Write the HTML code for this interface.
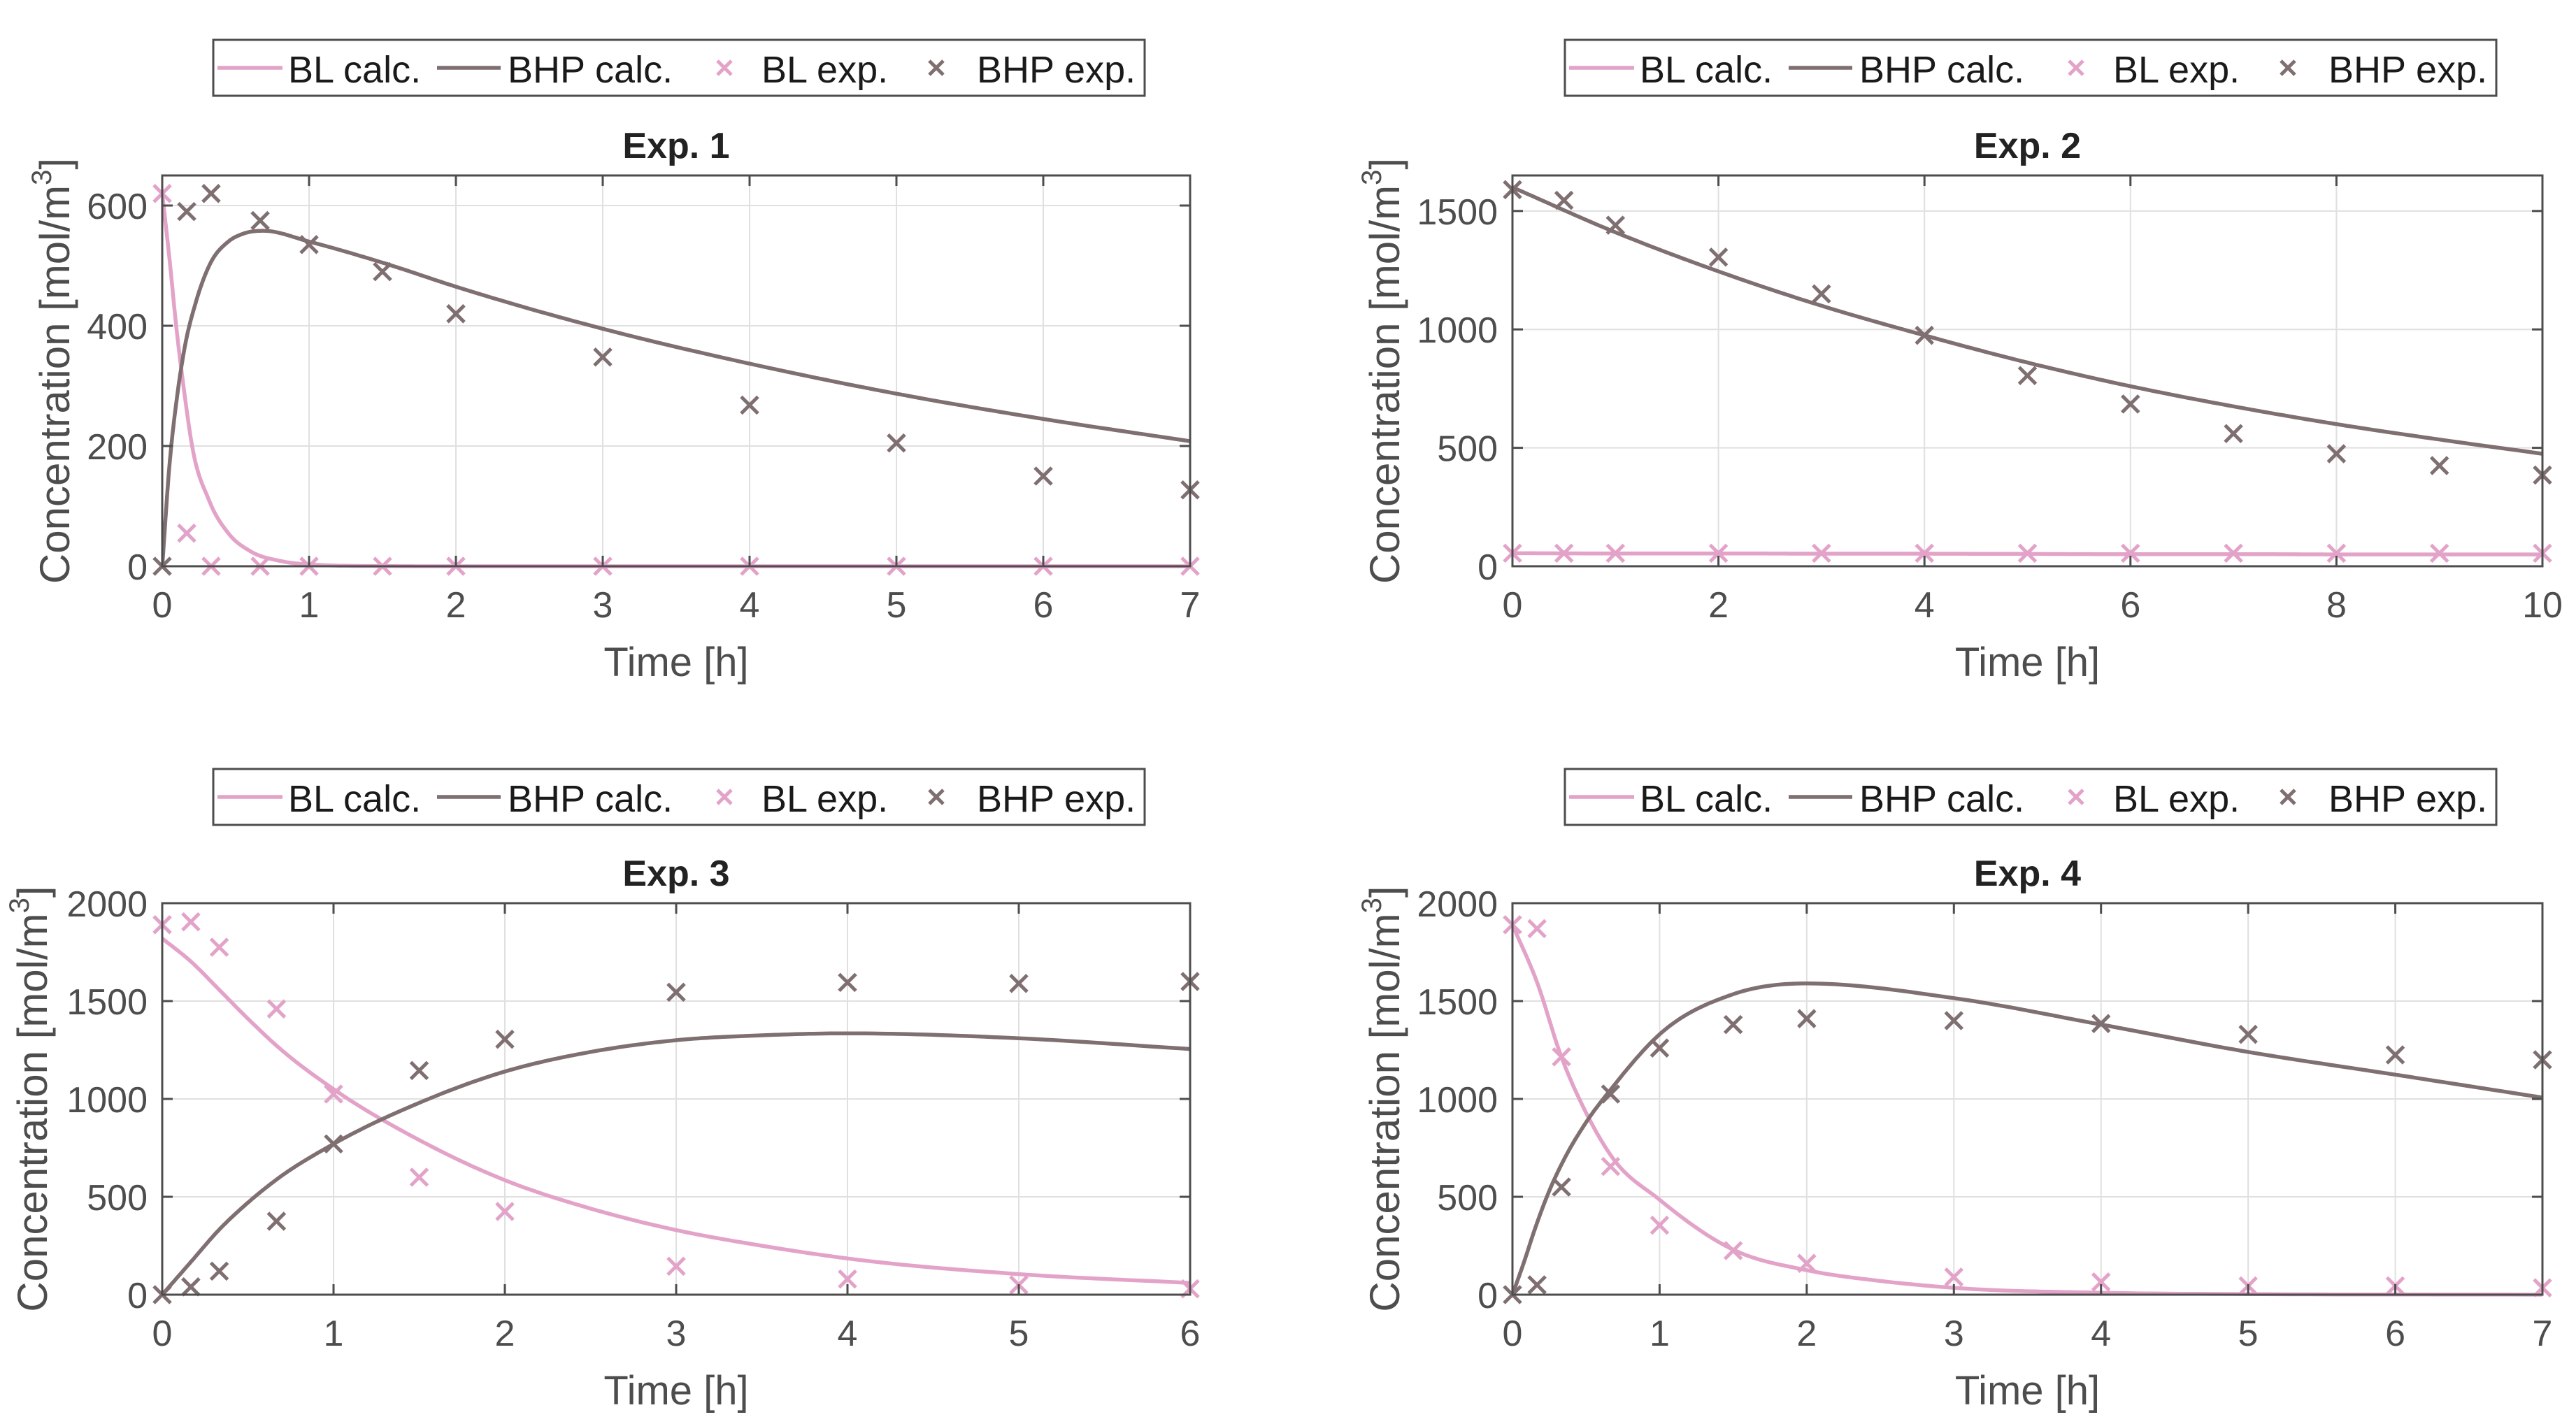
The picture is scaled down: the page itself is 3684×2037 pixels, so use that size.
<!DOCTYPE html>
<html><head><meta charset="utf-8"><style>
html,body{margin:0;padding:0;background:#fff;}
svg{display:block;}
</style></head><body>
<svg id="fig" width="3684" height="2037" viewBox="0 0 3684 2037" xmlns="http://www.w3.org/2000/svg" font-family="Liberation Sans, Arial, sans-serif"></svg>
<script>
// ---- Data ----
// Exp 1
const e1_tExp = [0, 0.167, 0.333, 0.667, 1, 1.5, 2, 3, 4, 5, 6, 7];
const e1_blExp = [620, 55, 0, 0, 0, 0, 0, 0, 0, 0, 0, 0];
const e1_bhpExp = [0, 590, 620, 575, 535, 490, 420, 348, 268, 205, 150, 127];
const e1_tBl = [0, 0.05, 0.095, 0.15, 0.2, 0.32, 0.45, 0.6, 0.8, 1, 1.5, 2, 7];
const e1_blCalc = [620, 510, 400, 290, 205, 109, 55, 25, 9, 3, 0.3, 0, 0];
const e1_tBhp = [0, 0.05, 0.1, 0.15, 0.23, 0.32, 0.45, 0.55, 0.69, 1, 1.5, 2, 3, 4, 5, 6, 7];
const e1_bhpCalc = [0, 170, 280, 360, 440, 500, 540, 553, 558, 540, 505, 465, 395, 337, 287, 245, 208];
// Exp 2
const e2_tExp = [0, 0.5, 1, 2, 3, 4, 5, 6, 7, 8, 9, 10];
const e2_blExp = [55, 55, 55, 55, 55, 55, 55, 55, 55, 55, 55, 55];
const e2_bhpExp = [1590, 1545, 1440, 1305, 1150, 975, 805, 685, 560, 475, 425, 385];
const e2_tCalc = [0, 1, 2, 3, 4, 5, 6, 7, 8, 9, 10];
const e2_blCalc = [55, 54, 54, 53, 53, 52, 51, 51, 50, 50, 50];
const e2_bhpCalc = [1600, 1410, 1245, 1100, 975, 860, 760, 675, 600, 535, 475];
// Exp 3
const e3_tExp = [0, 0.167, 0.333, 0.667, 1, 1.5, 2, 3, 4, 5, 6];
const e3_blExp = [1890, 1905, 1775, 1460, 1025, 600, 425, 145, 80, 50, 30];
const e3_bhpExp = [0, 40, 120, 375, 770, 1145, 1305, 1545, 1595, 1590, 1600];
const e3_tCalc = [0, 0.17, 0.33, 0.5, 0.67, 1, 1.5, 2, 2.5, 3, 3.5, 4, 5, 6];
const e3_blCalc = [1820, 1700, 1560, 1410, 1270, 1050, 790, 585, 440, 330, 250, 185, 105, 60];
const e3_bhpCalc = [0, 170, 330, 470, 590, 770, 980, 1140, 1240, 1300, 1325, 1335, 1310, 1255];
// Exp 4
const e4_tExp = [0, 0.167, 0.333, 0.667, 1, 1.5, 2, 3, 4, 5, 6, 7];
const e4_blExp = [1890, 1870, 1215, 655, 355, 225, 160, 90, 65, 45, 45, 35];
const e4_bhpExp = [0, 50, 550, 1025, 1260, 1380, 1410, 1400, 1385, 1330, 1225, 1200];
const e4_tBl = [0, 0.17, 0.33, 0.5, 0.67, 1, 1.5, 2, 2.5, 3, 4, 5, 7];
const e4_blCalc = [1890, 1590, 1220, 930, 710, 485, 230, 125, 70, 35, 10, 3, 0];
const e4_tBhp = [0, 0.08, 0.15, 0.25, 0.35, 0.5, 0.67, 1, 1.5, 2, 3, 4, 5, 6, 7];
const e4_bhpCalc = [0, 170, 330, 530, 690, 880, 1050, 1330, 1535, 1590, 1515, 1380, 1240, 1124, 1007];
// Ticks
const e1_xTicks = [0,1,2,3,4,5,6,7];
const e1_yTicks = [0,200,400,600];
const e2_xTicks = [0,2,4,6,8,10];
const e2_yTicks = [0,500,1000,1500];
const e3_xTicks = [0,1,2,3,4,5,6];
const e34_yTicks = [0,500,1000,1500,2000];
const e4_xTicks = [0,1,2,3,4,5,6,7];
const legendLabels = ["BL calc.", "BHP calc.", "BL exp.", "BHP exp."];
const titles = ["Exp. 1", "Exp. 2", "Exp. 3", "Exp. 4"];

const PINK = "#e3a3c9", BROWN = "#7f6f70", AX = "#4d4d4d";
const NS = "http://www.w3.org/2000/svg";
const svg = document.getElementById("fig");
function mk(tag, attrs, parent){
  const e = document.createElementNS(NS, tag);
  for (const k in attrs) e.setAttribute(k, attrs[k]);
  (parent||svg).appendChild(e); return e;
}
function mono(xs, ys){
  const n = xs.length, d = [], m = [];
  for (let i=0;i<n-1;i++) d.push((ys[i+1]-ys[i])/(xs[i+1]-xs[i]));
  m[0]=d[0]; m[n-1]=d[n-2];
  for (let i=1;i<n-1;i++){
    if (d[i-1]*d[i] <= 0) m[i]=0;
    else { const w1=xs[i+1]-xs[i], w0=xs[i]-xs[i-1]; m[i]=(w1*d[i-1]+w0*d[i])/(w0+w1); }
  }
  for (let i=0;i<n-1;i++){
    if (d[i]===0){ m[i]=0; m[i+1]=0; continue; }
    const a=m[i]/d[i], b=m[i+1]/d[i], s=a*a+b*b;
    if (s>9){ const t=3/Math.sqrt(s); m[i]=t*a*d[i]; m[i+1]=t*b*d[i]; }
  }
  const out=[];
  for (let i=0;i<n-1;i++){
    const h = xs[i+1]-xs[i];
    for (let k=0;k<20;k++){
      const t=k/20, t2=t*t, t3=t2*t;
      const y=(2*t3-3*t2+1)*ys[i]+(t3-2*t2+t)*h*m[i]+(-2*t3+3*t2)*ys[i+1]+(t3-t2)*h*m[i+1];
      out.push([xs[i]+t*h, y]);
    }
  }
  out.push([xs[n-1], ys[n-1]]);
  return out;
}

function panel(p){
  const g = mk("g", {});
  
  
  const L=p.L, R=p.R, T=p.T, B=p.B;
  const sx = v => L + (v - p.xmin)/(p.xmax - p.xmin)*(R-L);
  const sy = v => B - (v - p.ymin)/(p.ymax - p.ymin)*(B-T);
  p.xt.forEach(v=>{ if(v>p.xmin && v<p.xmax){ const l=mk("line",{x1:sx(v),x2:sx(v),y1:T,y2:B,stroke:"#e0e0e0","stroke-width":2},g);
     }});
  p.yt.forEach(v=>{ if(v>p.ymin && v<p.ymax){ const l=mk("line",{x1:L,x2:R,y1:sy(v),y2:sy(v),stroke:"#e0e0e0","stroke-width":2},g);
     }});
  const clip = "clip-"+p.name;
  const cp = mk("clipPath",{id:clip},g); mk("rect",{x:L,y:T-3,width:R-L,height:B-T+6},cp);
  function curve(xs, ys, col, nm){
    const pts = mono(xs, ys).map(q=>sx(q[0]).toFixed(1)+","+sy(q[1]).toFixed(1)).join(" ");
    const pl = mk("polyline",{points:pts,fill:"none",stroke:col,"stroke-width":5.5,"stroke-linejoin":"round","clip-path":"url(#"+clip+")"},g);
    
    
  }
  curve(p.tBl, p.blC, PINK, "bl-calc-line");
  curve(p.tBhp, p.bhpC, BROWN, "bhp-calc-line");
  function marks(xs, ys, col, nm){
    xs.forEach((x,i)=>{
      const cx=sx(x), cy=sy(ys[i]), r=12;
      const m = mk("path",{d:`M${cx-r},${cy-r}L${cx+r},${cy+r}M${cx-r},${cy+r}L${cx+r},${cy-r}`,stroke:col,"stroke-width":5,fill:"none"},g);
      
      
    });
  }
  marks(p.tE, p.blE, PINK, "bl-exp-marker");
  marks(p.tE, p.bhpE, BROWN, "bhp-exp-marker");
  const box = mk("rect",{x:L,y:T,width:R-L,height:B-T,fill:"none",stroke:AX,"stroke-width":3},g);
   
  p.xt.forEach(v=>{
    const x=sx(v);
    mk("line",{x1:x,x2:x,y1:B,y2:B-15,stroke:AX,"stroke-width":3},g);
    mk("line",{x1:x,x2:x,y1:T,y2:T+15,stroke:AX,"stroke-width":3},g);
    const t=mk("text",{x:x,y:B+73,"text-anchor":"middle","font-size":52,fill:AX},g); t.textContent=v;
     
  });
  p.yt.forEach(v=>{
    const y=sy(v);
    mk("line",{x1:L,x2:L+15,y1:y,y2:y,stroke:AX,"stroke-width":3},g);
    mk("line",{x1:R,x2:R-15,y1:y,y2:y,stroke:AX,"stroke-width":3},g);
    const t=mk("text",{x:L-21,y:y+19,"text-anchor":"end","font-size":52,fill:AX},g); t.textContent=v;
     
  });
  const xl = mk("text",{x:(L+R)/2,y:B+157,"text-anchor":"middle","font-size":58,fill:AX},g); xl.textContent="Time [h]";
   
  const yc=(T+B)/2, yx=L-p.yoff;
  const yl = mk("text",{x:yx,y:yc,"text-anchor":"middle","font-size":60,fill:AX,transform:`rotate(-90 ${yx} ${yc})`},g);
   
  yl.appendChild(document.createTextNode("Concentration [mol/m"));
  const sup = mk("tspan",{"font-size":40,dy:-26},yl); sup.textContent="3";
  const cl = mk("tspan",{dy:26},yl); cl.textContent="]";
  const tt = mk("text",{x:(L+R)/2,y:T-25,"text-anchor":"middle","font-size":52,"font-weight":"bold",fill:"#222"},g); tt.textContent=p.title;
   
  const lx=p.lx, ly=p.ly;
  const lg = mk("g",{},g);  
  mk("rect",{x:lx,y:ly,width:1332,height:80,fill:"#fff",stroke:AX,"stroke-width":3},lg);
  const by = ly+40, tb = ly+61;
  const ents = [
    {type:"line",col:PINK,x0:6,x1:99,tx:107},
    {type:"line",col:BROWN,x0:320,x1:411,tx:421},
    {type:"mark",col:PINK,cx:731,tx:784},
    {type:"mark",col:BROWN,cx:1034,tx:1092}
  ];
  ents.forEach((e,i)=>{
    const eg = mk("g",{},lg);
    
    
    if(e.type==="line") mk("line",{x1:lx+e.x0,x2:lx+e.x1,y1:by,y2:by,stroke:e.col,"stroke-width":5.5},eg);
    else { const c=lx+e.cx, r=10; mk("path",{d:`M${c-r},${by-r}L${c+r},${by+r}M${c-r},${by+r}L${c+r},${by-r}`,stroke:e.col,"stroke-width":5},eg); }
    const t=mk("text",{x:lx+e.tx,y:tb,"font-size":54,fill:"#1a1a1a"},eg); t.textContent=legendLabels[i];
  });
}

panel({name:"exp1-chart",title:titles[0],L:232,R:1702,T:251,B:810,xmin:0,xmax:7,ymin:0,ymax:650,xt:e1_xTicks,yt:e1_yTicks,yoff:133,lx:305,ly:57,
  tE:e1_tExp,blE:e1_blExp,bhpE:e1_bhpExp,tBl:e1_tBl,blC:e1_blCalc,tBhp:e1_tBhp,bhpC:e1_bhpCalc});
panel({name:"exp2-chart",title:titles[1],L:2163,R:3636,T:251,B:810,xmin:0,xmax:10,ymin:0,ymax:1650,xt:e2_xTicks,yt:e2_yTicks,yoff:162,lx:2238,ly:57,
  tE:e2_tExp,blE:e2_blExp,bhpE:e2_bhpExp,tBl:e2_tCalc,blC:e2_blCalc,tBhp:e2_tCalc,bhpC:e2_bhpCalc});
panel({name:"exp3-chart",title:titles[2],L:232,R:1702,T:1292,B:1852,xmin:0,xmax:6,ymin:0,ymax:2000,xt:e3_xTicks,yt:e34_yTicks,yoff:165,lx:305,ly:1100,
  tE:e3_tExp,blE:e3_blExp,bhpE:e3_bhpExp,tBl:e3_tCalc,blC:e3_blCalc,tBhp:e3_tCalc,bhpC:e3_bhpCalc});
panel({name:"exp4-chart",title:titles[3],L:2163,R:3636,T:1292,B:1852,xmin:0,xmax:7,ymin:0,ymax:2000,xt:e4_xTicks,yt:e34_yTicks,yoff:162,lx:2238,ly:1100,
  tE:e4_tExp,blE:e4_blExp,bhpE:e4_bhpExp,tBl:e4_tBl,blC:e4_blCalc,tBhp:e4_tBhp,bhpC:e4_bhpCalc});
</script>
</body></html>
